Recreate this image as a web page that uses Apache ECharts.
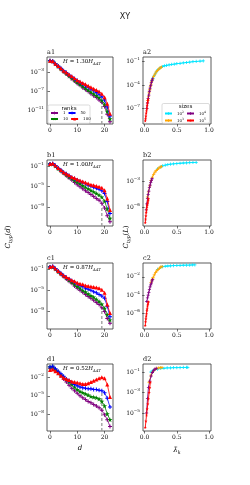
<!DOCTYPE html>
<html><head><meta charset="utf-8">
<script src="https://cdn.jsdelivr.net/npm/echarts@6/dist/echarts.min.js"></script>
<style>html,body{margin:0;padding:0;background:#fff}#c{width:250px;height:485px}</style>
</head><body><div id="c"></div>
<script>
// ---------- DATA ----------
const dVals = [0,1,2,3,4,5,6,7,8,9,10,11,12,13,14,15,16,17,18,19,20,21,22];
const rankNames = ['1','10','50','100'];
const sizeNames = ['10^2','10^3','10^4','10^5'];
const hFactors = ['1.30','1.00','0.87','0.52'];
const dCut = 19;

// left column: C_typ(d) per rank
const a1_rank1   = [3.2e-1,2.5e-1,6.3e-2,2e-2,5e-3,1.6e-3,5e-4,1.6e-4,5e-5,1.6e-5,5e-6,2e-6,6.3e-7,2.5e-7,1e-7,3.2e-8,1.3e-8,5e-9,1.6e-9,5e-10,6.3e-11,1.6e-12,4e-14];
const a1_rank10  = [3.2e-1,2.5e-1,7.9e-2,2e-2,6.3e-3,2e-3,6.3e-4,2e-4,6.3e-5,2.5e-5,7.9e-6,3.2e-6,1.3e-6,5e-7,2e-7,7.9e-8,3.2e-8,1.3e-8,5e-9,1.3e-9,2e-10,6.3e-12,1.6e-13];
const a1_rank50  = [3.2e-1,2.5e-1,7.9e-2,2.5e-2,7.9e-3,2.5e-3,1e-3,3.2e-4,1.3e-4,5e-5,2e-5,7.9e-6,4e-6,1.6e-6,7.9e-7,3.2e-7,1.6e-7,6.3e-8,2.5e-8,7.9e-9,1.6e-9,5e-11,6.3e-13];
const a1_rank100 = [3.2e-1,2.5e-1,7.9e-2,2.5e-2,7.9e-3,2.5e-3,1e-3,4e-4,1.6e-4,6.3e-5,2.5e-5,1.3e-5,6.3e-6,3.2e-6,1.6e-6,7.9e-7,4e-7,2e-7,1e-7,3.2e-8,6.3e-9,2.5e-10,2e-12];

const b1_rank1   = [2.5e-1,2.5e-1,1e-1,3.2e-2,1e-2,4e-3,1.3e-3,5e-4,2e-4,6.3e-5,2.5e-5,1e-5,4e-6,1.6e-6,7.9e-7,3.2e-7,1.3e-7,5e-8,2.5e-8,6.3e-9,7.9e-10,2.5e-11,1.6e-12];
const b1_rank10  = [2.5e-1,2.5e-1,1e-1,3.2e-2,1.3e-2,5e-3,2e-3,7.9e-4,4e-4,1.6e-4,7.9e-5,4e-5,1.6e-5,7.9e-6,4e-6,2e-6,1e-6,5e-7,2.5e-7,1e-7,1.6e-8,5e-10,7.9e-12];
const b1_rank50  = [2.5e-1,3.2e-1,1.3e-1,4e-2,1.6e-2,6.3e-3,3.2e-3,1.3e-3,6.3e-4,4e-4,2e-4,1e-4,6.3e-5,4e-5,2e-5,1.3e-5,7.9e-6,5e-6,3.2e-6,1.6e-6,5e-7,1.3e-8,6.3e-11];
const b1_rank100 = [2.5e-1,3.2e-1,1.3e-1,4e-2,1.6e-2,6.3e-3,3.2e-3,1.6e-3,7.9e-4,5e-4,2.5e-4,1.6e-4,1e-4,6.3e-5,4e-5,2.5e-5,2e-5,1.3e-5,1e-5,6.3e-6,2e-6,5e-8,3.2e-10];

const c1_rank1   = [2.5e-1,2.5e-1,1e-1,3.2e-2,1e-2,4e-3,1.3e-3,5e-4,2e-4,6.3e-5,2.5e-5,1e-5,4e-6,1.6e-6,6.3e-7,3.2e-7,1.3e-7,5e-8,2e-8,5e-9,1e-9,5e-11,6.3e-12];
const c1_rank10  = [2.5e-1,2.5e-1,1e-1,3.2e-2,1.3e-2,5e-3,2e-3,7.9e-4,3.2e-4,1.3e-4,5e-5,2.5e-5,1e-5,5e-6,2e-6,1e-6,5e-7,2e-7,7.9e-8,2.5e-8,4e-9,2.5e-10,2.5e-11];
const c1_rank50  = [2.5e-1,3.2e-1,1.3e-1,4e-2,1.6e-2,6.3e-3,2.5e-3,1.3e-3,6.3e-4,3.2e-4,1.6e-4,7.9e-5,5e-5,2.5e-5,1.6e-5,1e-5,5e-6,3.2e-6,1.6e-6,7.9e-7,3.2e-7,1e-8,1e-10];
const c1_rank100 = [2.5e-1,3.2e-1,1.3e-1,4e-2,1.6e-2,6.3e-3,3.2e-3,1.6e-3,7.9e-4,5e-4,2.5e-4,1.6e-4,1.3e-4,7.9e-5,6.3e-5,5e-5,4e-5,3.2e-5,2.5e-5,1.3e-5,3.2e-6,2e-8,5e-10];

const d1_rank1   = [2.5e-1,3.2e-1,1.3e-1,5e-2,1.6e-2,5e-3,1.6e-3,5e-4,1.6e-4,6.3e-5,2.5e-5,1e-5,5e-6,2.5e-6,1.3e-6,7.9e-7,4e-7,2.5e-7,1.3e-7,5e-8,1e-8,1.6e-9,1.3e-10];
const d1_rank10  = [4e-1,5e-1,1.6e-1,6.3e-2,2.5e-2,1e-2,4e-3,1.6e-3,6.3e-4,2.5e-4,1e-4,5e-5,3.2e-5,2e-5,1.3e-5,7.9e-6,6.3e-6,5e-6,3.2e-6,1.3e-6,2.5e-7,1.3e-8,1.6e-9];
const d1_rank50  = [4e-1,5e-1,2e-1,7.9e-2,3.2e-2,1.3e-2,5e-3,2.5e-3,1.3e-3,6.3e-4,4e-4,2.5e-4,2e-4,1.6e-4,1.3e-4,1.3e-4,1e-4,1e-4,7.9e-5,6.3e-5,3.2e-5,4e-6,1.6e-7];
const d1_rank100 = [1.3e-1,1.6e-1,7.9e-2,4e-2,1.6e-2,7.9e-3,5e-3,3.2e-3,2e-3,1.6e-3,1.3e-3,1e-3,7.9e-4,7.9e-4,1e-3,1.6e-3,2.5e-3,4e-3,6.3e-3,8.9e-3,6.3e-3,6.3e-4,6.3e-6];

// top of the dashed marker at d = dCut
const cutTops = [3.2e-10, 2.5e-9, 5e-9, 5e-5];

// right column: C_typ(L) against mean lambda_k, per system size
const a2_s2_lam = [0.115,0.13,0.15,0.17,0.19,0.21,0.23,0.25,0.28,0.31,0.34,0.38,0.42,0.46,0.5,0.55,0.6,0.65,0.7,0.75,0.8,0.86,0.91];
const a2_s2_C   = [4e-4,7.9e-4,1.8e-3,3.5e-3,6.3e-3,1e-2,1.4e-2,1.8e-2,2.4e-2,3e-2,3.4e-2,3.9e-2,4.4e-2,4.9e-2,5.5e-2,6.2e-2,7.1e-2,7.9e-2,8.9e-2,1e-1,1.07e-1,1.17e-1,1.26e-1];
const a2_s3_lam = [0.05,0.06,0.07,0.08,0.09,0.1,0.11,0.12,0.14,0.16,0.18,0.2,0.22,0.24,0.26];
const a2_s3_C   = [1e-6,3.2e-6,1e-5,2.5e-5,6.3e-5,1.3e-4,2.8e-4,5e-4,1.3e-3,2.5e-3,5e-3,7.9e-3,1.1e-2,1.6e-2,2e-2];
const a2_s4_lam = [0.035,0.045,0.055,0.065,0.075,0.085,0.095,0.105,0.115,0.125];
const a2_s4_C   = [1e-7,5e-7,2e-6,5e-6,1.6e-5,4e-5,8.9e-5,2e-4,4e-4,6.3e-4];
const a2_s5_lam = [0.01,0.015,0.02,0.025,0.03,0.035,0.04,0.045,0.05,0.055];
const a2_s5_C   = [2.5e-9,5e-9,1e-8,2.5e-8,5e-8,1e-7,2.5e-7,5e-7,1e-6,1.6e-6];

const b2_s2_lam = [0.2,0.25,0.28,0.32,0.36,0.4,0.45,0.5,0.55,0.6,0.65,0.7,0.75,0.8];
const b2_s2_C   = [3.2e-2,5.6e-2,7.1e-2,8.7e-2,1e-1,1.12e-1,1.26e-1,1.35e-1,1.45e-1,1.55e-1,1.62e-1,1.7e-1,1.78e-1,1.86e-1];
const b2_s3_lam = [0.045,0.06,0.08,0.1,0.12,0.14,0.16,0.18,0.2,0.22,0.24,0.26];
const b2_s3_C   = [1.6e-5,6.3e-5,3.2e-4,1.3e-3,3.5e-3,7.1e-3,1.3e-2,2e-2,2.8e-2,4e-2,5e-2,6e-2];
const b2_s4_lam = [0.025,0.035,0.045,0.055,0.065,0.075,0.085,0.095,0.105,0.115];
const b2_s4_C   = [5e-7,2.5e-6,1e-5,3.2e-5,7.9e-5,2e-4,4e-4,7.9e-4,1.4e-3,2.2e-3];
const b2_s5_lam = [0.01,0.015,0.02,0.025,0.03,0.035,0.04,0.045,0.05,0.055,0.06];
const b2_s5_C   = [1.6e-8,4e-8,1e-7,2.5e-7,5e-7,1e-6,1.6e-6,2.5e-6,4e-6,6.3e-6,1e-5];

const c2_s2_lam = [0.2,0.25,0.28,0.32,0.36,0.4,0.45,0.5,0.55,0.6,0.65,0.7,0.74,0.78];
const c2_s2_C   = [6.3e-2,1.05e-1,1.26e-1,1.41e-1,1.51e-1,1.58e-1,1.66e-1,1.74e-1,1.78e-1,1.82e-1,1.86e-1,1.91e-1,1.95e-1,2e-1];
const c2_s3_lam = [0.1,0.115,0.13,0.15,0.17,0.19,0.21,0.23,0.25,0.27];
const c2_s3_C   = [2.5e-3,4.5e-3,7.9e-3,1.6e-2,2.8e-2,4.5e-2,6.3e-2,8.9e-2,1.12e-1,1.26e-1];
const c2_s4_lam = [0.035,0.045,0.055,0.065,0.075,0.085,0.095,0.105,0.115,0.125];
const c2_s4_C   = [2e-5,5e-5,1e-4,2e-4,4e-4,7.9e-4,1.3e-3,2e-3,3.5e-3,5e-3];
const c2_s5_lam = [0.01,0.015,0.02,0.025,0.03,0.035,0.04,0.045,0.05,0.055,0.06];
const c2_s5_C   = [5e-8,1.3e-7,2.5e-7,5e-7,1e-6,2e-6,3.2e-6,6.3e-6,1e-5,1.4e-5,2e-5];

const d2_s2_lam = [0.1,0.12,0.15,0.2,0.25,0.3,0.35,0.4,0.45,0.5,0.55,0.6,0.65,0.67];
const d2_s2_C   = [1e-1,1.26e-1,1.58e-1,1.9e-1,2.2e-1,2.3e-1,2.5e-1,2.5e-1,2.6e-1,2.6e-1,2.7e-1,2.75e-1,2.8e-1,2.8e-1];
const d2_s3_lam = [0.07,0.1,0.13,0.16,0.19,0.22,0.25,0.27];
const d2_s3_C   = [1e-2,5e-2,1.12e-1,1.78e-1,2.2e-1,2.5e-1,2.6e-1,2.7e-1];
const d2_s4_lam = [0.03,0.045,0.06,0.08,0.1,0.12,0.14,0.16,0.18];
const d2_s4_C   = [1e-5,2.5e-4,3.2e-3,1.3e-2,4e-2,8.9e-2,1.41e-1,1.9e-1,2.2e-1];
const d2_s5_lam = [0.01,0.02,0.03,0.04,0.05,0.06,0.07,0.08,0.09];
const d2_s5_C   = [4e-7,1.6e-6,6.3e-6,2.5e-5,7.9e-5,2.5e-4,1e-3,3.2e-3,1e-2];

// tick labels
const leftXTicks = [0,10,20];
const rightXTicks = [0,0.5,1];
const yTicks = [
  [1e-11,1e-7,1e-3],[1e-7,1e-4,1e-1],
  [1e-9,1e-5,1e-1],[1e-6,1e-3],
  [1e-9,1e-5,1e-1],[1e-6,1e-4,1e-2],
  [1e-8,1e-5,1e-2],[1e-5,1e-3,1e-1]
];

// ---------- LAYOUT / STYLE ----------
const SERIF = 'DejaVu Serif';
const SANS = 'DejaVu Sans';
const rankColors = ['#800080','#008000','#0000ff','#ff0000'];
const sizeColors = ['#00e5ff','#ffa500','#800080','#ff0000'];
const PLUS = 'path://M3,0H5V3H8V5H5V8H3V5H0V3H3Z';
const STAR = 'path://M50,0L61,35L98,35L68,57L79,91L50,70L21,91L32,57L2,35L39,35Z';
const rankSymbols = [PLUS, STAR, PLUS, 'triangle'];
const rankSizes = [4, 5, 4, 4];
const sizeSymbols = [PLUS, PLUS, PLUS, STAR];

const rowTops = [57,160,263,364];
const rowH = [67,66,66,67];
const yRanges = [
  [1.3e-14, 2], [1e-9, 0.4],
  [2.5e-13, 1.45], [6.3e-9, 0.35],
  [5e-13, 1.35], [2e-8, 0.32],
  [2.5e-11, 1.17], [1.75e-7, 0.6]
];

const grids = [], xAxes = [], yAxes = [];
function logFmt(v){
  const e = Math.round(Math.log10(v));
  return '{b|10}{s|' + (e < 0 ? '\u2212' : '') + Math.abs(e) + '}';
}
const labelRich = {
  b: {fontSize: 6, fontFamily: SERIF, color: '#111', lineHeight: 9},
  s: {fontSize: 4.2, fontFamily: SERIF, color: '#111', verticalAlign: 'top', lineHeight: 9}
};
for (let r = 0; r < 4; r++) {
  for (let c = 0; c < 2; c++) {
    const gi = r*2 + c;
    grids.push({left: c ? 143 : 47, top: rowTops[r], width: c ? 68 : 66, height: rowH[r],
      show: true, borderColor: '#333', borderWidth: 0.8, backgroundColor: 'transparent'});
    const xt = c ? rightXTicks : leftXTicks;
    xAxes.push({type: 'value', gridIndex: gi,
      min: c ? -0.025 : -1.1, max: c ? 1.03 : 23.1,
      axisLine: {show: false}, splitLine: {show: false},
      axisTick: {show: true, length: 2.5, lineStyle: {color: '#333', width: 0.7}, customValues: xt},
      axisLabel: {show: true, customValues: xt, margin: 3, fontSize: 6, fontFamily: SERIF, color: '#111',
        formatter: c ? (v => v.toFixed(1)) : (v => String(v))}
    });
    yAxes.push({type: 'log', logBase: 10, gridIndex: gi,
      min: yRanges[gi][0], max: yRanges[gi][1],
      axisLine: {show: false}, splitLine: {show: false}, minorTick: {show: false},
      axisTick: {show: true, length: 2.5, lineStyle: {color: '#333', width: 0.7}, customValues: yTicks[gi]},
      axisLabel: {show: true, customValues: yTicks[gi], margin: 3, formatter: logFmt, rich: labelRich}
    });
  }
}

const series = [];
const leftData = [
  [a1_rank1, a1_rank10, a1_rank50, a1_rank100],
  [b1_rank1, b1_rank10, b1_rank50, b1_rank100],
  [c1_rank1, c1_rank10, c1_rank50, c1_rank100],
  [d1_rank1, d1_rank10, d1_rank50, d1_rank100]
];
const rightData = [
  [[a2_s2_lam,a2_s2_C],[a2_s3_lam,a2_s3_C],[a2_s4_lam,a2_s4_C],[a2_s5_lam,a2_s5_C]],
  [[b2_s2_lam,b2_s2_C],[b2_s3_lam,b2_s3_C],[b2_s4_lam,b2_s4_C],[b2_s5_lam,b2_s5_C]],
  [[c2_s2_lam,c2_s2_C],[c2_s3_lam,c2_s3_C],[c2_s4_lam,c2_s4_C],[c2_s5_lam,c2_s5_C]],
  [[d2_s2_lam,d2_s2_C],[d2_s3_lam,d2_s3_C],[d2_s4_lam,d2_s4_C],[d2_s5_lam,d2_s5_C]]
];
for (let r = 0; r < 4; r++) {
  const gl = r*2, gr = r*2 + 1;
  // dashed cut line
  series.push({type: 'line', name: 'cut', xAxisIndex: gl, yAxisIndex: gl, silent: true,
    data: [[dCut, yRanges[gl][0]], [dCut, cutTops[r]]], symbol: 'none',
    lineStyle: {color: '#999', width: 1.3, type: [3, 2]}, z: 1});
  leftData[r].forEach((arr, k) => {
    series.push({type: 'line', name: rankNames[k], xAxisIndex: gl, yAxisIndex: gl,
      data: dVals.map((d, i) => [d, arr[i]]),
      symbol: rankSymbols[k], symbolSize: rankSizes[k], showAllSymbol: true,
      lineStyle: {color: rankColors[k], width: 0.8}, itemStyle: {color: rankColors[k]},
      emphasis: {disabled: true}, z: 2 + k});
  });
  rightData[r].forEach((pair, k) => {
    series.push({type: 'line', name: sizeNames[k], xAxisIndex: gr, yAxisIndex: gr,
      data: pair[0].map((x, i) => [x, pair[1][i]]),
      symbol: sizeSymbols[k], symbolSize: 3.2, showAllSymbol: true,
      lineStyle: {color: sizeColors[k], width: 0.9}, itemStyle: {color: sizeColors[k]},
      emphasis: {disabled: true}, z: 2 + k});
  });
}

const legendText = {fontSize: 4, fontFamily: SERIF, color: '#111'};
const legends = [
  {data: ['1','50','10','100'], left: 50, top: 111, width: 42, orient: 'horizontal', padding: 0,
   itemWidth: 7, itemHeight: 3.5, itemGap: 2, z: 10, selectedMode: false,
   textStyle: Object.assign({width: 6}, legendText)},
  {data: ['10^2','10^4','10^3','10^5'], left: 164, top: 110.5, width: 44, orient: 'horizontal', padding: 0,
   itemWidth: 7, itemHeight: 3.5, itemGap: 2, z: 10, selectedMode: false,
   formatter: n => '{t|10}{s|' + n.split('^')[1] + '}',
   textStyle: Object.assign({width: 8, rich: {
     t: {fontSize: 4, fontFamily: SERIF, color: '#111', lineHeight: 6},
     s: {fontSize: 3, fontFamily: SERIF, color: '#111', verticalAlign: 'top', lineHeight: 6}}}, legendText)}
];

const graphic = [];
const panelLetters = ['a','b','c','d'];
const richH = {
  i: {fontSize: 5.5, fontFamily: SERIF, fontStyle: 'italic', color: '#111', lineHeight: 8},
  n: {fontSize: 5.5, fontFamily: SERIF, color: '#111', lineHeight: 8},
  sub: {fontSize: 3.8, fontFamily: SERIF, fontStyle: 'italic', color: '#111', verticalAlign: 'bottom', lineHeight: 8}
};
for (let r = 0; r < 4; r++) {
  graphic.push({type: 'text', x: 47, y: rowTops[r] - 5, z: 20,
    style: {text: panelLetters[r] + '1', fontSize: 6.5, fontFamily: SERIF, fill: '#111', align: 'left', verticalAlign: 'middle'}});
  graphic.push({type: 'text', x: 143, y: rowTops[r] - 5, z: 20,
    style: {text: panelLetters[r] + '2', fontSize: 6.5, fontFamily: SERIF, fill: '#111', align: 'left', verticalAlign: 'middle'}});
  graphic.push({type: 'text', x: 82, y: rowTops[r] + 5, z: 20,
    style: {text: '{i|H}{n| = ' + hFactors[r] + '}{i|H}{sub|AAT}', rich: richH, align: 'center', verticalAlign: 'middle'}});
}
// legend frames & titles
graphic.push({type: 'rect', shape: {x: 48, y: 105, width: 42, height: 18.3, r: 1.5}, z: 8,
  style: {fill: 'rgba(255,255,255,0.85)', stroke: '#cccccc', lineWidth: 0.7}});
graphic.push({type: 'text', x: 69, y: 108.3, z: 20,
  style: {text: 'ranks', fontSize: 5.5, fontFamily: SANS, fill: '#111', align: 'center', verticalAlign: 'middle'}});
graphic.push({type: 'rect', shape: {x: 162, y: 103.5, width: 47.5, height: 19.8, r: 1.5}, z: 8,
  style: {fill: 'rgba(255,255,255,0.85)', stroke: '#cccccc', lineWidth: 0.7}});
graphic.push({type: 'text', x: 185.5, y: 107, z: 20,
  style: {text: 'sizes', fontSize: 5.5, fontFamily: SANS, fill: '#111', align: 'center', verticalAlign: 'middle'}});
// axis names
const richAx = {
  i: {fontSize: 7, fontFamily: SERIF, fontStyle: 'italic', color: '#111', lineHeight: 10},
  n: {fontSize: 7, fontFamily: SERIF, color: '#111', lineHeight: 10},
  sub: {fontSize: 4.8, fontFamily: SERIF, fontStyle: 'italic', color: '#111', verticalAlign: 'bottom', lineHeight: 10}
};
graphic.push({type: 'text', x: 8, y: 237, rotation: Math.PI/2, z: 20,
  style: {text: '{i|C}{sub|typ}{n|(}{i|d}{n|)}', rich: richAx, align: 'center', verticalAlign: 'middle'}});
graphic.push({type: 'text', x: 126, y: 237, rotation: Math.PI/2, z: 20,
  style: {text: '{i|C}{sub|typ}{n|(}{i|L}{n|)}', rich: richAx, align: 'center', verticalAlign: 'middle'}});
graphic.push({type: 'text', x: 80, y: 448, z: 20,
  style: {text: '{i|d}', rich: richAx, align: 'center', verticalAlign: 'middle'}});
graphic.push({type: 'text', x: 177, y: 450, z: 20,
  style: {text: '{i|\u03bb\u0304}{sub|k}', rich: richAx, align: 'center', verticalAlign: 'middle'}});

const option = {
  animation: false,
  title: {text: 'XY', left: 'center', top: 8, textStyle: {fontSize: 8, fontWeight: 'normal', color: '#222', fontFamily: SANS}},
  grid: grids, xAxis: xAxes, yAxis: yAxes, series: series, legend: legends, graphic: graphic
};
const chart = echarts.init(document.getElementById('c'), null, {renderer: 'canvas'});
chart.setOption(option);
</script></body></html>
